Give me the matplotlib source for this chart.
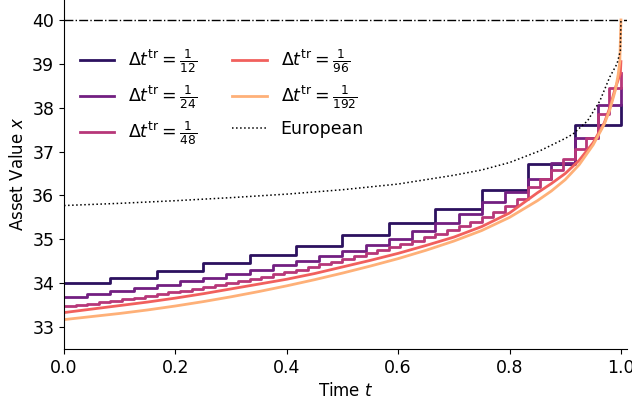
import numpy as np
import matplotlib
matplotlib.use("Agg")
import matplotlib.pyplot as plt

# exercise boundary, one value per trading step (last value sits at t = 1)
b_12 = [34.00, 34.11, 34.28, 34.46, 34.64, 34.84, 35.09, 35.38, 35.70,
        36.12, 36.71, 37.60, 38.05]
b_24 = [33.68, 33.75, 33.82, 33.89, 33.96, 34.04, 34.12, 34.21, 34.31,
        34.41, 34.51, 34.62, 34.74, 34.87, 35.01, 35.18, 35.38, 35.58,
        35.84, 36.08, 36.38, 36.75, 37.30, 38.05, 38.44]
b_48 = [33.47, 33.50, 33.53, 33.57, 33.60, 33.64, 33.67, 33.71, 33.75,
        33.79, 33.83, 33.87, 33.91, 33.96, 34.00, 34.05, 34.10, 34.15,
        34.20, 34.25, 34.31, 34.37, 34.43, 34.49, 34.55, 34.62, 34.69,
        34.76, 34.83, 34.90, 34.97, 35.05, 35.13, 35.21, 35.30, 35.40,
        35.50, 35.62, 35.75, 35.93, 36.20, 36.38, 36.58, 36.82, 37.05,
        37.30, 37.85, 38.44, 38.78]

t_96 = [0, 0.05, 0.1, 0.15, 0.2, 0.25, 0.3, 0.35, 0.4, 0.45, 0.5, 0.55,
        0.6, 0.65, 0.7, 0.75, 0.8, 0.85, 0.875, 0.9, 0.925, 0.95, 0.97,
        0.98, 0.99, 0.999, 1.0]
b_96 = [33.33, 33.41, 33.49, 33.57, 33.66, 33.76, 33.87, 33.98, 34.09,
        34.22, 34.37, 34.52, 34.68, 34.86, 35.05, 35.29, 35.60, 36.06,
        36.27, 36.50, 36.80, 37.20, 37.65, 38.00, 38.45, 38.78, 39.05]
t_192 = [0, 0.05, 0.1, 0.15, 0.2, 0.25, 0.3, 0.35, 0.4, 0.45, 0.5, 0.55,
         0.6, 0.65, 0.7, 0.75, 0.8, 0.85, 0.875, 0.9, 0.925, 0.95, 0.97,
         0.98, 0.99, 0.995, 0.998, 1.0]
b_192 = [33.17, 33.24, 33.31, 33.39, 33.48, 33.58, 33.69, 33.81, 33.94,
         34.08, 34.23, 34.39, 34.56, 34.75, 34.96, 35.20, 35.50, 35.88,
         36.10, 36.36, 36.70, 37.15, 37.62, 37.95, 38.40, 38.75, 39.05,
         40.00]

t_eu = [0, 0.1, 0.2, 0.3, 0.4, 0.5, 0.6, 0.7, 0.75, 0.8, 0.855, 0.9,
        0.914, 0.94, 0.962, 0.98, 0.993, 0.999, 1.0]
b_eu = [35.77, 35.82, 35.88, 35.95, 36.03, 36.13, 36.26, 36.46, 36.58,
        36.75, 37.02, 37.30, 37.40, 37.70, 38.15, 38.70, 39.00, 39.30,
        40.00]

strike = 40.0
steps = [(12, b_12), (24, b_24), (48, b_48)]

plt.rcParams['font.size'] = 12.5
cols = plt.cm.magma(np.linspace(0, 1, 7)[1:-1])

fig = plt.figure(figsize=(6.32, 4.0), dpi=100)
ax = fig.add_axes([0.1013, 0.1275, 0.89, 0.8775])

ax.axhline(strike, color='k', ls='-.', lw=1)
for i, (n, b) in enumerate(steps):
    t = np.linspace(0, 1, n + 1)
    ax.plot(t, b, drawstyle='steps-post', color=cols[i], lw=2,
            label=r'$\Delta t^{\mathrm{tr}} = \frac{1}{%d}$' % n)
ax.plot(t_96, b_96, color=cols[3], lw=2,
        label=r'$\Delta t^{\mathrm{tr}} = \frac{1}{96}$')
ax.plot(t_192, b_192, color=cols[4], lw=2,
        label=r'$\Delta t^{\mathrm{tr}} = \frac{1}{192}$')
ax.plot(t_eu, b_eu, color='k', ls=':', lw=1.1, label='European')

ax.set_xlim(0, 1.01)
ax.set_ylim(32.5, 40.5)
ax.set_xticks([0, 0.2, 0.4, 0.6, 0.8, 1.0])
ax.set_yticks(range(33, 41))
ax.set_xlabel('Time $t$', fontsize=12)
ax.set_ylabel('Asset Value $x$', fontsize=12)
ax.spines['top'].set_visible(False)
ax.spines['right'].set_visible(False)

ax.legend(loc='upper left', ncol=2, frameon=False,
          bbox_to_anchor=(0.0, 0.905))

fig.savefig('out.png', dpi=100)
